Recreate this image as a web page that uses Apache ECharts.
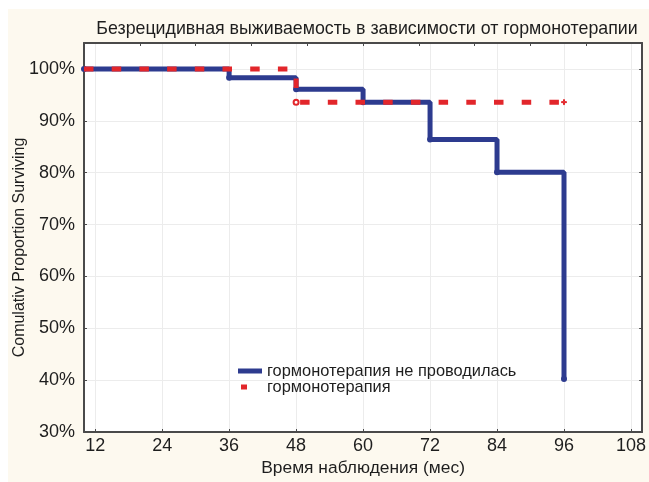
<!DOCTYPE html>
<html>
<head>
<meta charset="utf-8">
<script src="https://cdn.jsdelivr.net/npm/echarts@6/dist/echarts.min.js"></script>
<style>
html,body{margin:0;padding:0;background:#ffffff;}
#c{width:649px;height:482px;}
</style>
</head>
<body>
<div id="c"></div>
<script>
// ---- data ----
var blueName = 'гормонотерапия не проводилась';
var redName = 'гормонотерапия';
var blueTimes = [10, 36, 48, 60, 72, 84, 96];
var blueValues = [100, 98.3, 96.1, 93.6, 86.4, 80.1, 40.2];
var redTimes = [10, 48, 96];
var redValues = [100, 93.6, 93.6];
var xTickValues = [12, 24, 36, 48, 60, 72, 84, 96, 108];
var titleText = 'Безрецидивная выживаемость в зависимости от гормонотерапии';
var xName = 'Время наблюдения (мес)';
var yName = 'Comulativ Proportion Surviving';

function pairs(xs, ys) {
  var out = [];
  for (var i = 0; i < xs.length; i++) out.push([xs[i], ys[i]]);
  return out;
}

var FONT = '"Liberation Sans", Arial, Helvetica, sans-serif';
var TXT = '#1e1e1e';
var BORDER = '#4a4a4a';
var BLUE = '#2d3b8f';
var RED = '#e2262b';
var PLUS = 'path://M2 0h1v2h2v1h-2v2h-1v-2h-2v-1h2z';

var chart = echarts.init(document.getElementById('c'), null, {renderer: 'canvas'});
chart.setOption({
  backgroundColor: '#fdf9ef',
  animation: false,
  graphic: [
    {type: 'rect', left: 0, top: 0, shape: {width: 649, height: 9}, style: {fill: '#ffffff'}, z: -10},
    {type: 'rect', left: 0, top: 0, shape: {width: 8, height: 482}, style: {fill: '#ffffff'}, z: -10}
  ],
  title: {
    text: titleText,
    left: 362, textAlign: 'center', top: 15,
    textStyle: {fontFamily: FONT, fontSize: 17.8, fontWeight: 'normal', color: TXT}
  },
  legend: {
    orient: 'vertical',
    left: 238, top: 363,
    padding: 0,
    itemGap: 0,
    itemWidth: 24, itemHeight: 5,
    textStyle: {fontFamily: FONT, fontSize: 16.4, color: TXT},
    data: [
      {name: blueName, icon: 'rect', itemStyle: {color: BLUE, borderWidth: 0}},
      {name: redName, icon: 'path://M0 0M24 5M3 0h6v5h-6z', itemStyle: {color: RED, borderWidth: 0}}
    ]
  },
  grid: {left: 84, right: 4, top: 43, bottom: 50, show: true, backgroundColor: '#ffffff', borderWidth: 0},
  xAxis: [
    {
      type: 'value', position: 'bottom', min: 10, max: 110,
      name: xName, nameLocation: 'middle', nameGap: 28,
      nameTextStyle: {fontFamily: FONT, fontSize: 17.4, color: TXT},
      axisLine: {show: true, lineStyle: {color: BORDER, width: 2}},
      axisTick: {show: true, inside: true, length: 3, customValues: xTickValues, lineStyle: {color: BORDER}},
      axisLabel: {customValues: xTickValues, fontFamily: FONT, fontSize: 18, color: TXT, margin: 5},
      splitLine: {show: true, lineStyle: {color: '#ececec', width: 1}}
    },
    {
      type: 'value', position: 'top', min: 10, max: 110, interval: 10,
      axisLine: {show: true, lineStyle: {color: BORDER, width: 2}},
      axisTick: {show: true, inside: true, length: 3, lineStyle: {color: BORDER}},
      axisLabel: {show: false},
      splitLine: {show: false}
    }
  ],
  yAxis: [
    {
      type: 'value', position: 'left', min: 30, max: 105, interval: 10,
      name: yName, nameLocation: 'middle', nameGap: 56, nameMoveOverlap: false,
      nameTextStyle: {fontFamily: FONT, fontSize: 16, color: TXT, padding: [0, 20, 0, 0]},
      axisLine: {show: true, lineStyle: {color: BORDER, width: 2}},
      axisTick: {show: true, inside: true, length: 3, lineStyle: {color: BORDER}},
      axisLabel: {formatter: '{value}%', showMaxLabel: false, fontFamily: FONT, fontSize: 18, color: TXT, margin: 9},
      splitLine: {show: true, lineStyle: {color: '#ececec', width: 1}}
    },
    {
      type: 'value', position: 'right', min: 30, max: 105, interval: 10,
      axisLine: {show: true, lineStyle: {color: BORDER, width: 2}},
      axisTick: {show: true, inside: true, length: 3, lineStyle: {color: BORDER}},
      axisLabel: {show: false},
      splitLine: {show: false}
    }
  ],
  series: [
    {
      name: blueName, type: 'line', step: 'end',
      data: pairs(blueTimes, blueValues),
      symbol: 'circle', symbolSize: 6, showSymbol: true,
      itemStyle: {color: BLUE},
      lineStyle: {color: BLUE, width: 5},
      z: 2
    },
    {
      name: redName, type: 'line', step: 'end',
      data: pairs(redTimes, redValues),
      showSymbol: true,
      symbol: function (value, params) {
        if (params.dataIndex === 0) return 'none';
        if (params.dataIndex === redTimes.length - 1) return PLUS;
        return 'emptyCircle';
      },
      symbolSize: 5,
      itemStyle: {color: RED, borderColor: RED, borderWidth: 1},
      lineStyle: {color: RED, width: 5, type: [9.5, 18.2], cap: 'butt'},
      z: 3
    }
  ]
});
</script>
</body>
</html>
